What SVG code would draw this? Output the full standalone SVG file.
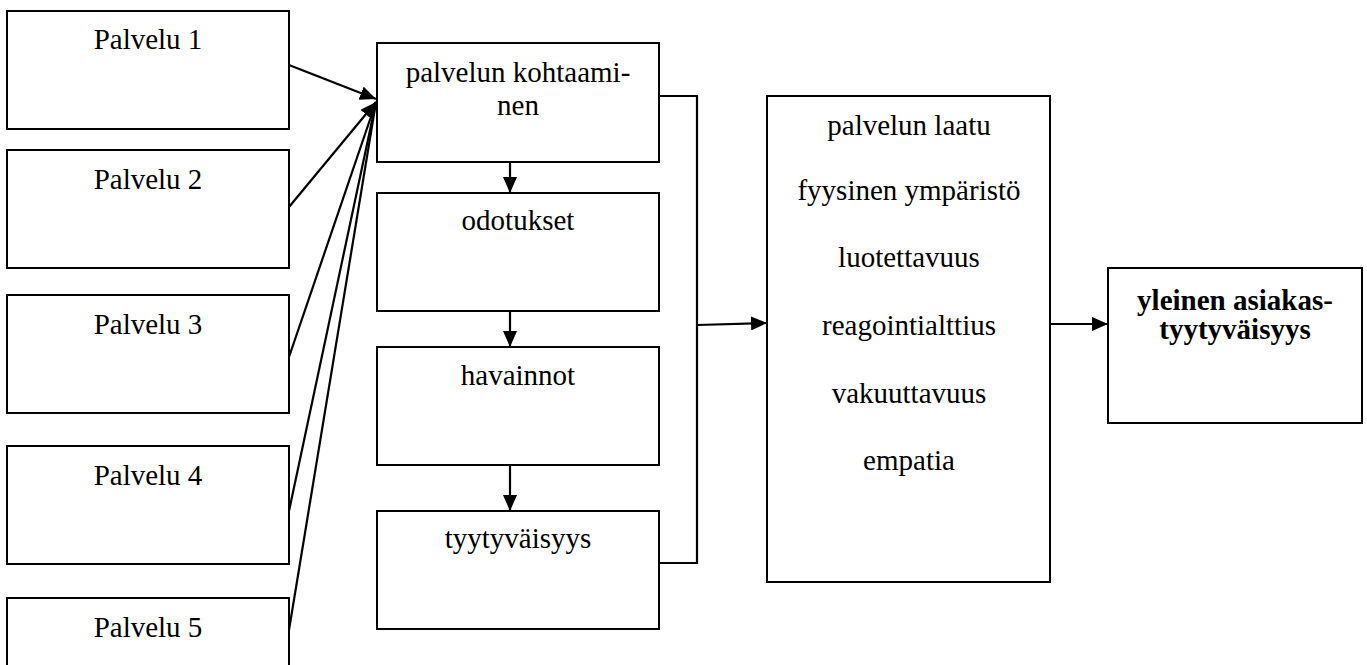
<svg xmlns="http://www.w3.org/2000/svg" width="1367" height="665" viewBox="0 0 1367 665">
<style>
.box{fill:#fff;stroke:#000;stroke-width:2}
.t{font-family:"Liberation Serif","Times New Roman",serif;font-size:29px;fill:#000;text-anchor:middle}
.b{font-weight:bold}
.ln{fill:none;stroke:#000;stroke-width:2.2}
.ar{marker-end:url(#ah)}
</style>
<defs>
<marker id="ah" markerUnits="userSpaceOnUse" markerWidth="16" markerHeight="14" refX="16" refY="7" orient="auto">
<path d="M0,0 L16,7 L0,14 z" fill="#000"/>
</marker>
</defs>
<rect width="1367" height="665" fill="#fff"/>
<g id="palvelu1"><rect class="box" x="7" y="11" width="282" height="118"/><text class="t" x="148" y="49">Palvelu 1</text></g>
<g id="palvelu2"><rect class="box" x="7" y="150" width="282" height="118"/><text class="t" x="148" y="189">Palvelu 2</text></g>
<g id="palvelu3"><rect class="box" x="7" y="295" width="282" height="118"/><text class="t" x="148" y="334">Palvelu 3</text></g>
<g id="palvelu4"><rect class="box" x="7" y="446" width="282" height="118"/><text class="t" x="148" y="485">Palvelu 4</text></g>
<g id="palvelu5"><rect class="box" x="7" y="598" width="282" height="90"/><text class="t" x="148" y="637">Palvelu 5</text></g>
<g id="kohtaaminen"><rect class="box" x="377" y="43" width="282" height="119"/><text class="t" x="518" y="82">palvelun kohtaami-</text><text class="t" x="518" y="115">nen</text></g>
<g id="odotukset"><rect class="box" x="377" y="193" width="282" height="118"/><text class="t" x="518" y="230">odotukset</text></g>
<g id="havainnot"><rect class="box" x="377" y="347" width="282" height="118"/><text class="t" x="518" y="385">havainnot</text></g>
<g id="tyytyvaisyys"><rect class="box" x="377" y="511" width="282" height="118"/><text class="t" x="518" y="548">tyytyväisyys</text></g>
<g id="laatu"><rect class="box" x="767" y="96" width="283" height="486"/>
<text class="t" x="909" y="135">palvelun laatu</text>
<text class="t" x="909" y="200">fyysinen ympäristö</text>
<text class="t" x="909" y="267">luotettavuus</text>
<text class="t" x="909" y="335">reagointialttius</text>
<text class="t" x="909" y="403">vakuuttavuus</text>
<text class="t" x="909" y="470">empatia</text>
</g>
<g id="yleinen"><rect class="box" x="1108" y="268" width="254" height="155"/>
<text class="t b" x="1235" y="310">yleinen asiakas-</text>
<text class="t b" x="1235" y="339">tyytyväisyys</text>
</g>
<g id="connectors">
<line class="ln ar" x1="289" y1="65" x2="376" y2="99"/>
<line class="ln ar" x1="289" y1="207" x2="376" y2="102"/>
<line class="ln" x1="289" y1="357" x2="376" y2="102"/>
<line class="ln" x1="289" y1="511" x2="376" y2="102"/>
<line class="ln" x1="289" y1="630" x2="376" y2="102"/>
<line class="ln ar" x1="510" y1="162" x2="510" y2="193"/>
<line class="ln ar" x1="510" y1="311" x2="510" y2="347"/>
<line class="ln ar" x1="510" y1="465" x2="510" y2="511"/>
<polyline class="ln" points="659,96 697,96 697,563 659,563"/>
<line class="ln ar" x1="697" y1="325" x2="767" y2="323"/>
<line class="ln ar" x1="1050" y1="324" x2="1108" y2="324"/>
</g>
</svg>
